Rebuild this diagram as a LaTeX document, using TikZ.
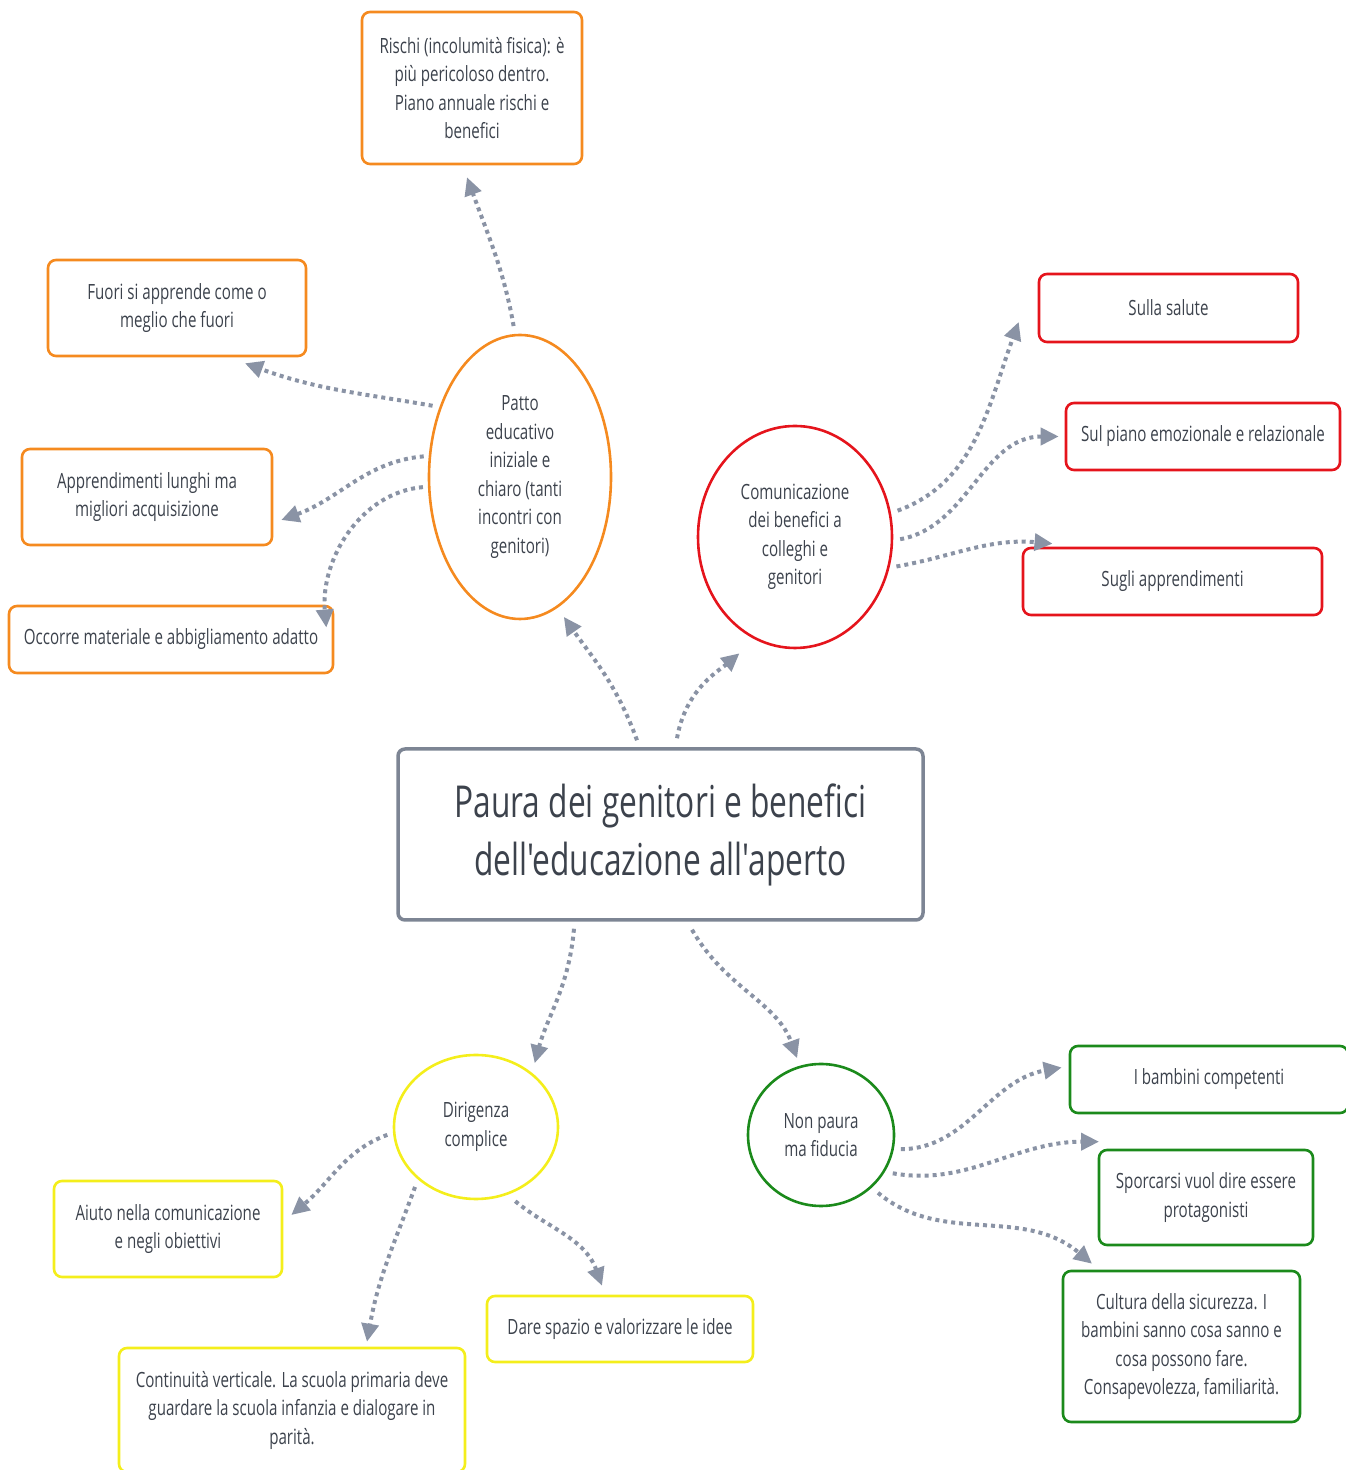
\documentclass[tikz,border=0pt]{standalone}
\usepackage{fontspec}
\newfontfamily\mapfont{Open Sans}[FakeStretch=0.72]
\usetikzlibrary{arrows.meta,shapes.geometric}

\definecolor{linkgray}{HTML}{8A93A5}
\definecolor{maingray}{HTML}{7D8594}
\definecolor{txtgray}{HTML}{3C424C}
\definecolor{maporange}{HTML}{F58A1F}
\definecolor{mapred}{HTML}{E5141C}
\definecolor{mapyellow}{HTML}{F4EE1B}
\definecolor{mapgreen}{HTML}{1B8A1B}

\tikzset{
  leaf/.style={draw, rounded corners=8pt, line width=2.6pt, align=center,
    text=txtgray, inner sep=0pt, font=\mapfont\fontsize{21}{28.5}\selectfont},
  topic/.style={draw, ellipse, line width=2.6pt, align=center,
    text=txtgray, inner sep=0pt, font=\mapfont\fontsize{21}{28.5}\selectfont},
  link/.style={line width=4pt, linkgray, dash pattern=on 4pt off 4pt,
    -{Triangle[length=18pt,width=17pt]}}
}

\begin{document}
\begin{tikzpicture}[x=1pt,y=1pt]
    \useasboundingbox (0,0) rectangle (1345,1470);

    % Central box
    \node[draw=maingray, rounded corners=7pt, line width=3.5pt, text=txtgray,
      minimum width=525pt, minimum height=171pt, align=center,
      font=\mapfont\fontsize{44}{58}\selectfont] (main) at (660.5,635.5)
      {Paura dei genitori e benefici\\dell'educazione all'aperto};

    % Topics
    \node[topic, draw=maporange, minimum width=182pt, minimum height=284pt] (patto) at (520,993)
      {Patto\\educativo\\iniziale e\\chiaro (tanti\\incontri con\\genitori)};
    \node[topic, draw=mapred, minimum width=194pt, minimum height=222pt] (comm) at (795,933)
      {Comunicazione\\dei benefici a\\colleghi e\\genitori};
    \node[topic, draw=mapyellow, minimum width=164pt, minimum height=144pt] (dirig) at (476,343)
      {Dirigenza\\complice};
    \node[topic, draw=mapgreen, minimum width=146pt, minimum height=142pt] (fiducia) at (821,335)
      {Non paura\\ma fiducia};

    % Leaves, orange
    \node[leaf, draw=maporange, minimum width=220pt, minimum height=152pt] (rischi) at (472,1382)
      {Rischi (incolumità fisica): è\\più pericoloso dentro.\\Piano annuale rischi e\\benefici};
    \node[leaf, draw=maporange, minimum width=258pt, minimum height=96pt] (fuori) at (177,1162)
      {Fuori si apprende come o\\meglio che fuori};
    \node[leaf, draw=maporange, minimum width=250pt, minimum height=96pt] (lunghi) at (147,973)
      {Apprendimenti lunghi ma\\migliori acquisizione};
    \node[leaf, draw=maporange, minimum width=324pt, minimum height=67pt] (materiale) at (171,830.5)
      {Occorre materiale e abbigliamento adatto};

    % Leaves, red
    \node[leaf, draw=mapred, minimum width=259pt, minimum height=68pt] (salute) at (1168.5,1162)
      {Sulla salute};
    \node[leaf, draw=mapred, minimum width=274pt, minimum height=67pt] (emozioni) at (1203,1033.5)
      {Sul piano emozionale e relazionale};
    \node[leaf, draw=mapred, minimum width=299pt, minimum height=67pt] (apprend) at (1172.5,888.5)
      {Sugli apprendimenti};

    % Leaves, yellow
    \node[leaf, draw=mapyellow, minimum width=228pt, minimum height=96pt] (aiuto) at (168,241)
      {Aiuto nella comunicazione\\e negli obiettivi};
    \node[leaf, draw=mapyellow, minimum width=346pt, minimum height=124pt] (continuita) at (292,60)
      {Continuità verticale. La scuola primaria deve\\guardare la scuola infanzia e dialogare in\\parità.};
    \node[leaf, draw=mapyellow, minimum width=266pt, minimum height=66pt] (idee) at (620,141)
      {Dare spazio e valorizzare le idee};

    % Leaves, green
    \node[leaf, draw=mapgreen, minimum width=278pt, minimum height=67pt] (bambini) at (1209,390.5)
      {I bambini competenti};
    \node[leaf, draw=mapgreen, minimum width=214pt, minimum height=95pt] (sporcarsi) at (1206,272.5)
      {Sporcarsi vuol dire essere\\protagonisti};
    \node[leaf, draw=mapgreen, minimum width=237pt, minimum height=151pt] (sicurezza) at (1181.5,123.5)
      {Cultura della sicurezza. I\\bambini sanno cosa sanno e\\cosa possono fare.\\Consapevolezza, familiarità.};

    % Links from the centre
    \draw[link, shorten >=11pt] ([xshift=-23.5pt,yshift=7pt]main.north) to[out=110,in=-55] (patto.-74);
    \draw[link, shorten >=21pt] ([xshift=16.5pt,yshift=9pt]main.north) to[out=80,in=220] (comm.-111);
    \draw[link, shorten >=10pt] ([xshift=-86.5pt,yshift=-7pt]main.south) to[out=-95,in=75] (dirig.44);
    \draw[link, shorten >=8pt] ([xshift=31.5pt,yshift=-8pt]main.south) to[out=-60,in=110] (fiducia.107);

    % Links from the topics
    \draw[link, shorten <=8pt] (patto.92) to[out=100,in=-70] ([xshift=-5pt,yshift=-12pt]rischi.south);
    \draw[link, shorten <=7pt] (patto.139) to[out=170,in=-20] ([xshift=68pt,yshift=-6pt]fuori.south);
    \draw[link, shorten <=5pt] (patto.167) to[out=185,in=20] ([xshift=8pt,yshift=-23pt]lunghi.east);
    \draw[link, shorten <=5pt] (patto.186) to[out=185,in=95] ([xshift=-8pt,yshift=12pt]materiale.east);

    \draw[link, shorten <=7pt] (comm.14) to[out=20,in=-110] ([xshift=-19pt,yshift=-14pt]salute.west);
    \draw[link, shorten <=7pt] (comm.-2) to[out=10,in=180] ([xshift=-6pt]emozioni.west);
    \draw[link, shorten <=7pt] (comm.-18) to[out=10,in=175] ([xshift=-120pt,yshift=3pt]apprend.north);

    \draw[link, shorten <=6pt] (dirig.184) to[out=200,in=40] ([xshift=8pt,yshift=14pt]aiuto.east);
    \draw[link, shorten <=8pt] (dirig.222) to[out=-110,in=80] ([xshift=75pt,yshift=5pt]continuita.north);
    \draw[link, shorten <=10pt] (dirig.-65) to[out=-40,in=110] ([xshift=-18pt,yshift=9pt]idee.north);

    \draw[link, shorten <=7pt] (fiducia.-11) to[out=0,in=190] ([xshift=-7pt,yshift=12pt]bambini.west);
    \draw[link, shorten <=8pt] (fiducia.-30) to[out=-10,in=180] ([xshift=-107pt,yshift=7pt]sporcarsi.north);
    \draw[link, shorten <=8pt] (fiducia.-46) to[out=-40,in=140] ([xshift=-89.5pt,yshift=6pt]sicurezza.north);
\end{tikzpicture}
\end{document}
